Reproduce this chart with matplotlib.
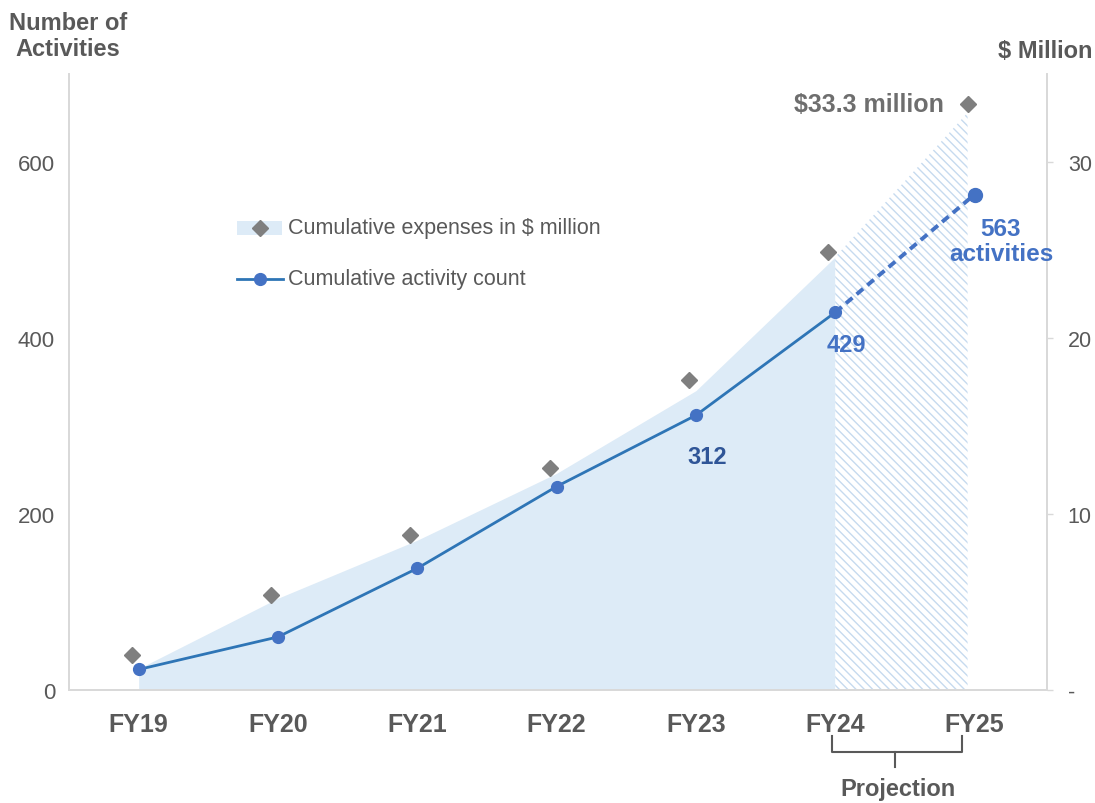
import matplotlib
matplotlib.use("Agg")
import matplotlib.pyplot as plt
from matplotlib.lines import Line2D
from matplotlib.patches import Rectangle
from matplotlib import transforms
import numpy as np

# Datos
years = ["FY19", "FY20", "FY21", "FY22", "FY23", "FY24", "FY25"]
activity_count = [23, 60, 138, 231, 312, 429, 563]
expenses_musd = [2.0, 5.4, 8.8, 12.6, 17.6, 24.9, 33.3]
area_top_musd = [1.2, 5.2, 8.5, 12.3, 17.0, 24.6, 32.8]
left_ticks = [0, 200, 400, 600]
right_ticks = [0, 10, 20, 30]
right_tick_labels = ["-", "10", "20", "30"]

GRAY = "#595959"
LIGHT = "#D9D9D9"
plt.rcParams["font.family"] = ["Liberation Sans", "DejaVu Sans"]
plt.rcParams["hatch.linewidth"] = 1.0

W, H = 1095, 804
fig = plt.figure(figsize=(W / 100, H / 100), dpi=100)
ax = fig.add_axes([69 / W, 1 - 690.7 / H, (1047 - 69) / W, (690.7 - 75) / H])
ax2 = ax.twinx()
ax.set_zorder(ax2.get_zorder() + 1)
ax.patch.set_visible(False)

x = np.arange(len(years))
shift = -0.05  # la serie de gastos esta un poco desplazada a la izquierda

# Area de gastos (real + proyeccion con rayado)
x_area = x.astype(float)
x_area[-1] += shift
ax2.fill_between(x_area[:6], 0, area_top_musd[:6], color="#DDEBF7", lw=0)
ax2.fill_between(x_area[5:], 0, area_top_musd[5:], facecolor="white",
                 edgecolor="#C6DAEF", hatch="\\\\\\\\", lw=0)
ax2.plot(x + shift, expenses_musd, "D", color="#7F7F7F", ms=8, ls="none")

# Linea de actividades
ax.plot(x[:6], activity_count[:6], "-", color="#2E75B6", lw=2.0, zorder=3)
ax.plot(x[5:], activity_count[5:], "--", color="#4472C4", lw=2.8,
        dashes=(2.2, 1.4), zorder=3)
ax.plot(x[:6], activity_count[:6], "o", color="#4472C4", ms=8.5, zorder=4)
ax.plot(x[6], activity_count[6], "o", color="#4472C4", ms=10, zorder=4)

# Ejes
ax.set_xlim(-0.5, 6.52)
ax.set_ylim(0, 700)
ax2.set_ylim(0, 35)
ax.set_xticks(x)
ax.set_xticklabels(years, fontsize=18, fontweight="bold", color=GRAY)
ax.tick_params(axis="x", length=0, pad=16)
ax.set_yticks(left_ticks)
ax.set_yticklabels([str(t) for t in left_ticks], fontsize=16, color=GRAY)
ax.tick_params(axis="y", length=0, pad=10)
ax2.set_yticks(right_ticks)
ax2.set_yticklabels(right_tick_labels, fontsize=15.5, color=GRAY)
ax2.tick_params(axis="y", length=4, width=1, color=LIGHT, pad=11)
for a in (ax, ax2):
    a.spines["top"].set_visible(False)
    for s in ("left", "right", "bottom"):
        a.spines[s].set_color(LIGHT)
        a.spines[s].set_linewidth(1.3)

# Etiquetas de datos
ax2.annotate(f"${expenses_musd[-1]} million", (x[-1] + shift, expenses_musd[-1]),
             xytext=(-17, 0), textcoords="offset points", ha="right", va="center",
             fontsize=18, fontweight="bold", color="#6E6E6E")
ax.annotate(f"{activity_count[-1]}\nactivities", (x[-1], activity_count[-1]),
            xytext=(19, -16), textcoords="offset points", ha="center", va="top",
            fontsize=17.5, fontweight="bold", color="#4472C4", linespacing=1.1)
ax.annotate(str(activity_count[5]), (x[5], activity_count[5]), xytext=(8, -23),
            textcoords="offset points", ha="center", va="center",
            fontsize=17, fontweight="bold", color="#4472C4")
ax.annotate(str(activity_count[4]), (x[4], activity_count[4]), xytext=(8, -30),
            textcoords="offset points", ha="center", va="center",
            fontsize=17, fontweight="bold", color="#2F5597")

# Titulos de ejes
fig.text(68 / W, 1 - 12 / H, "Number of\nActivities", ha="center", va="top",
         fontsize=17, fontweight="bold", color=GRAY, linespacing=1.15)
fig.text(1045 / W, 1 - 52 / H, "$ Million", ha="center", va="center",
         fontsize=17, fontweight="bold", color=GRAY)

# Leyenda manual
def fx(px):
    return px / W

def fy(py):
    return 1 - py / H

fig.add_artist(Rectangle((fx(237), fy(236)), fx(282) - fx(237), fy(222) - fy(236),
                         transform=fig.transFigure, color="#DDEBF7", lw=0))
fig.add_artist(Line2D([fx(260)], [fy(229)], marker="D", color="#7F7F7F", ms=8,
                      transform=fig.transFigure))
fig.text(fx(288), fy(229), "Cumulative expenses in $ million", ha="left",
         va="center", fontsize=15.5, color=GRAY)
fig.add_artist(Line2D([fx(237), fx(283)], [fy(280), fy(280)], color="#2E75B6",
                      lw=2.0, transform=fig.transFigure))
fig.add_artist(Line2D([fx(260)], [fy(280)], marker="o", color="#4472C4", ms=8.5,
                      transform=fig.transFigure))
fig.text(fx(288), fy(280), "Cumulative activity count", ha="left",
         va="center", fontsize=15.5, color=GRAY)

# Corchete de proyeccion
tr = transforms.blended_transform_factory(ax.transData, fig.transFigure)
bl, br, bc = 4.98, 5.91, 5.43
fig.add_artist(Line2D([bl, bl, br, br], [fy(737), fy(753), fy(753), fy(737)],
                      color=GRAY, lw=1.5, transform=tr, clip_on=False))
fig.add_artist(Line2D([bc, bc], [fy(753), fy(768)], color=GRAY, lw=1.5,
                      transform=tr, clip_on=False))
fig.text(bc + 0.02, fy(790), "Projection", transform=tr, ha="center",
         va="center", fontsize=17, fontweight="bold", color=GRAY)

fig.savefig("out.png", dpi=100)
